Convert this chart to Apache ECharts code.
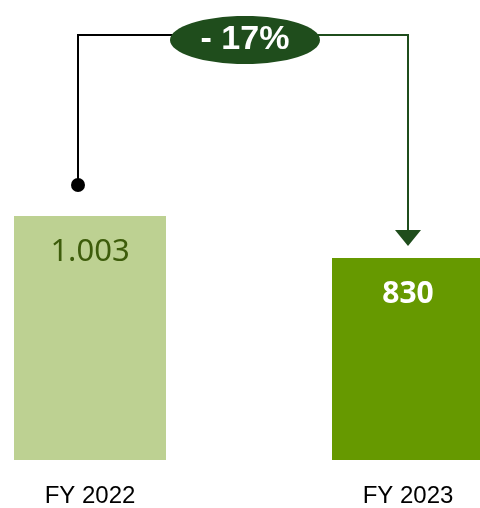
<!DOCTYPE html>
<html>
<head>
<meta charset="utf-8">
<style>
  html, body { margin: 0; padding: 0; background: #fff; }
  #chart { width: 480px; height: 508px; }
</style>
<script src="https://cdn.jsdelivr.net/npm/echarts@6/dist/echarts.min.js"></script>
</head>
<body>
<div id="chart"></div>
<script>
// Fiscal years and their totals
const categories = ['FY 2022', 'FY 2023'];
const values = [1003, 830];
const valueLabels = ['1.003', '830'];
const changeLabel = '- 17%';

const barColors = ['#bdd192', '#669900'];
const labelColors = ['#3d5c0b', '#ffffff'];
const darkGreen = '#1f4d1c';

const chart = echarts.init(document.getElementById('chart'), null, { renderer: 'canvas' });

const option = {
  animation: false,
  backgroundColor: '#ffffff',
  grid: { left: -69, width: 636, top: 216, bottom: 48, containLabel: false, outerBoundsMode: 'none' },
  xAxis: {
    type: 'category',
    data: categories,
    axisLine: { show: false },
    axisTick: { show: false },
    axisLabel: {
      margin: 24,
      color: '#000',
      fontFamily: 'Liberation Sans, Arial, sans-serif',
      fontSize: 24
    }
  },
  yAxis: {
    type: 'value',
    min: 0,
    max: 1003,
    show: false,
    splitLine: { show: false }
  },
  series: [{
    type: 'bar',
    barWidth: 152,
    data: values.map((v, i) => ({
      value: v,
      itemStyle: { color: barColors[i] },
      label: {
        show: true,
        position: 'insideTop',
        distance: 21,
        formatter: valueLabels[i],
        color: labelColors[i],
        fontFamily: 'Noto Sans, sans-serif',
        fontSize: i === 0 ? 31 : 30,
        fontWeight: i === 0 ? 'normal' : 'bold'
      }
    }))
  }]
};
chart.setOption(option);

// Connector from the first bar to the second with the change badge
const p0 = chart.convertToPixel({ seriesIndex: 0 }, [0, values[0]]);
const p1 = chart.convertToPixel({ seriesIndex: 0 }, [1, values[1]]);
const lineY = 35;
const startX = p0[0] - 12;
const dotY = p0[1] - 31;
const arrowTip = p1[1] - 12;
const arrowH = 16;
const badgeX = (p0[0] + p1[0]) / 2 - 4;

chart.setOption({
  graphic: [
    { type: 'polyline', z: 10,
      shape: { points: [[startX, dotY], [startX, lineY], [badgeX, lineY]] },
      style: { stroke: '#000', lineWidth: 2, fill: null } },
    { type: 'polyline', z: 10,
      shape: { points: [[badgeX, lineY], [p1[0], lineY], [p1[0], arrowTip - arrowH]] },
      style: { stroke: darkGreen, lineWidth: 2, fill: null } },
    { type: 'circle', z: 11,
      shape: { cx: startX, cy: dotY, r: 7 },
      style: { fill: '#000' } },
    { type: 'polygon', z: 11,
      shape: { points: [[p1[0] - 13, arrowTip - arrowH], [p1[0] + 13, arrowTip - arrowH], [p1[0], arrowTip]] },
      style: { fill: darkGreen } },
    { type: 'ellipse', z: 12,
      shape: { cx: badgeX, cy: 40, rx: 75, ry: 24 },
      style: { fill: darkGreen } },
    { type: 'text', z: 13,
      x: badgeX, y: 40,
      style: {
        text: changeLabel,
        fill: '#fff',
        font: 'bold 34px "Liberation Sans", Arial, sans-serif',
        align: 'center',
        verticalAlign: 'middle'
      } }
  ]
});
</script>
</body>
</html>
